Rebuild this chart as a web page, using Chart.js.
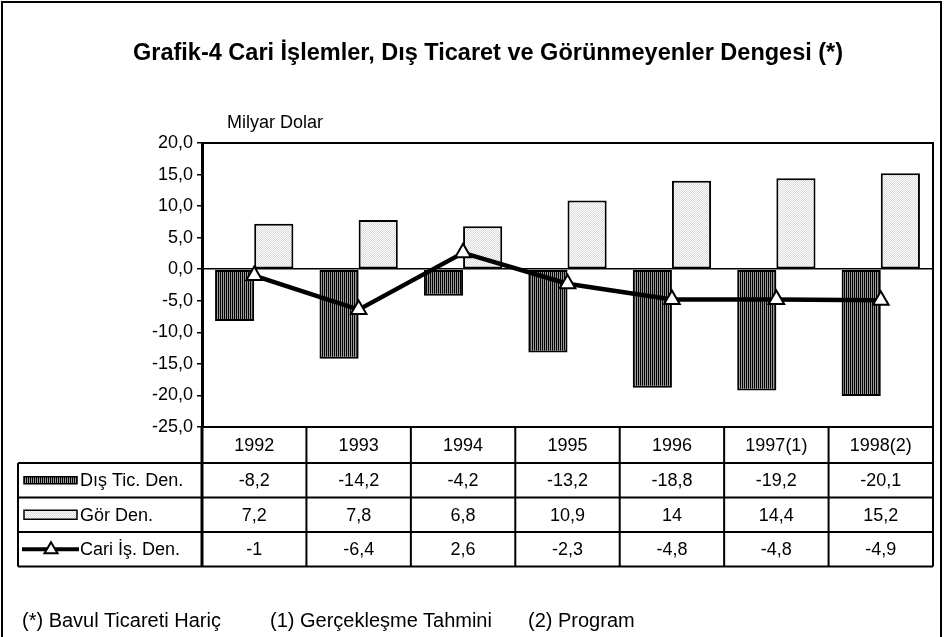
<!DOCTYPE html>
<html><head><meta charset="utf-8">
<script src="https://cdn.jsdelivr.net/npm/chart.js@4.4.1/dist/chart.umd.min.js"></script>
<style>
html,body{margin:0;padding:0;background:#fff;}
#wrap{position:relative;width:944px;height:637px;overflow:hidden;font-family:"Liberation Sans",Arial,sans-serif;color:#000;}
#frame{position:absolute;left:1px;top:1px;width:937px;height:700px;border:2px solid #000;box-sizing:content-box;}
#c{position:absolute;left:0;top:0;}
.t{position:absolute;white-space:nowrap;}
#title{left:133px;top:41px;font-weight:bold;font-size:23.5px;line-height:23px;}
#unit{left:227px;top:113px;font-size:18px;line-height:18px;}
.fn{top:610px;font-size:20px;line-height:20px;}
</style></head>
<body><div id="wrap">
<div id="frame"></div>
<canvas id="c" width="944" height="637"></canvas>
<div class="t" id="title">Grafik-4 Cari İşlemler, Dış Ticaret ve Görünmeyenler Dengesi (*)</div>
<div class="t" id="unit">Milyar Dolar</div>
<div class="t fn" style="left:22px">(*) Bavul Ticareti Hariç</div>
<div class="t fn" style="left:270px">(1) Gerçekleşme Tahmini</div>
<div class="t fn" style="left:528px">(2) Program</div>
</div>
<script>
// ---- data ----
const categories = ['1992','1993','1994','1995','1996','1997(1)','1998(2)'];
const disTicDen = [-8.2,-14.2,-4.2,-13.2,-18.8,-19.2,-20.1];
const gorDen = [7.2,7.8,6.8,10.9,14,14.4,15.2];
const cariIsDen = [-1,-6.4,2.6,-2.3,-4.8,-4.8,-4.9];
const seriesNames = ['Dış Tic. Den.','Gör Den.','Cari İş. Den.'];
const yMin = -25, yMax = 20, yStep = 5;

// ---- patterns ----
function makePattern(w,h,cells){
  const pc=document.createElement('canvas');pc.width=w;pc.height=h;
  const g=pc.getContext('2d');
  for(let y=0;y<h;y++)for(let x=0;x<w;x++){g.fillStyle=cells[y][x];g.fillRect(x,y,1,1);}
  return g.createPattern(pc,'repeat');
}
const ctx=document.getElementById('c').getContext('2d');
const stripe = makePattern(2,1,[['#000','#9a9a9a']]);
const dots = makePattern(2,2,[['#ffffff','#d8d8d8'],['#d8d8d8','#ffffff']]);

const fmt = v => String(v).replace('.',',');
const FONT = '"Liberation Sans", Arial, sans-serif';

const tablePlugin = {
  id:'tablePlugin',
  afterDraw(chart){
    const c=chart.ctx, ca=chart.chartArea, xs=chart.scales.x;
    const half=(xs.getPixelForValue(1)-xs.getPixelForValue(0))/2;
    const legLeft=18, headerBottom=ca.bottom+36, rowH=34.5;
    const rows=[headerBottom, headerBottom+rowH, headerBottom+2*rowH, headerBottom+3*rowH];
    const tableBottom=rows[3];
    c.save();
    c.strokeStyle='#000';
    c.lineWidth=2;
    c.beginPath();
    c.moveTo(ca.left,ca.top);c.lineTo(ca.right,ca.top);c.lineTo(ca.right,tableBottom);
    c.stroke();
    c.beginPath();
    c.moveTo(ca.left,ca.bottom);c.lineTo(ca.right,ca.bottom);
    rows.forEach(y=>{c.moveTo(legLeft,y);c.lineTo(ca.right,y);});
    c.moveTo(legLeft,rows[0]);c.lineTo(legLeft,tableBottom);
    for(let i=1;i<categories.length;i++){
      const x=xs.getPixelForValue(i)-half;
      c.moveTo(x,ca.bottom);c.lineTo(x,tableBottom);
    }
    c.stroke();
    c.lineWidth=3;
    c.beginPath();c.moveTo(ca.left,ca.bottom);c.lineTo(ca.left,tableBottom);c.stroke();
    c.fillStyle='#000';c.font='18px '+FONT;c.textAlign='center';c.textBaseline='middle';
    categories.forEach((lab,i)=>{c.fillText(lab,xs.getPixelForValue(i),(ca.bottom+headerBottom)/2+1);});
    const series=[disTicDen,gorDen,cariIsDen];
    series.forEach((arr,r)=>{
      const yc=(rows[r]+rows[r+1])/2+1;
      arr.forEach((v,i)=>c.fillText(fmt(v),xs.getPixelForValue(i),yc));
    });
    c.textAlign='left';
    seriesNames.forEach((n,r)=>c.fillText(n,80,(rows[r]+rows[r+1])/2+1));
    let yc=(rows[0]+rows[1])/2;
    c.fillStyle=stripe;c.fillRect(24,yc-3.5,53,7);c.lineWidth=1.5;c.strokeRect(24,yc-3.5,53,7);
    yc=(rows[1]+rows[2])/2;
    c.fillStyle=dots;c.fillRect(24,yc-4.5,53,9);c.strokeRect(24,yc-4.5,53,9);
    yc=(rows[2]+rows[3])/2;
    c.lineWidth=4;c.beginPath();c.moveTo(22,yc);c.lineTo(79,yc);c.stroke();
    c.lineWidth=2;c.fillStyle='#fff';c.beginPath();
    c.moveTo(51,yc-7);c.lineTo(57.5,yc+4);c.lineTo(44.5,yc+4);c.closePath();c.fill();c.stroke();
    c.restore();
  }
};

new Chart(ctx,{
  data:{
    labels:categories,
    datasets:[
      {type:'bar',label:seriesNames[0],data:disTicDen,backgroundColor:stripe,borderColor:'#000',borderWidth:2,borderSkipped:false,order:2,categoryPercentage:0.75,barPercentage:1},
      {type:'bar',label:seriesNames[1],data:gorDen,backgroundColor:dots,borderColor:'#000',borderWidth:2,borderSkipped:false,order:2,categoryPercentage:0.75,barPercentage:1},
      {type:'line',label:seriesNames[2],data:cariIsDen,borderColor:'#000',borderWidth:4.5,tension:0,pointStyle:'triangle',pointRadius:9,pointBackgroundColor:'#fff',pointBorderColor:'#000',pointBorderWidth:2,order:0}
    ]
  },
  options:{
    responsive:false,animation:false,
    layout:{padding:{top:143,right:10,bottom:210,left:0}},
    plugins:{legend:{display:false},tooltip:{enabled:false},title:{display:false}},
    scales:{
      x:{display:false,offset:true},
      y:{
        min:yMin,max:yMax,
        afterFit(s){s.width=202;},
        ticks:{stepSize:yStep,color:'#000',font:{family:FONT,size:18},padding:4,callback:v=>v.toFixed(1).replace('.',',')},
        grid:{drawOnChartArea:true,color:c=>c.tick&&c.tick.value===0?'#000':'rgba(0,0,0,0)',lineWidth:1.5,tickColor:'#000',tickLength:5,tickWidth:1.5},
        border:{display:true,color:'#000',width:3}
      }
    }
  },
  plugins:[tablePlugin]
});
</script>
</body></html>
